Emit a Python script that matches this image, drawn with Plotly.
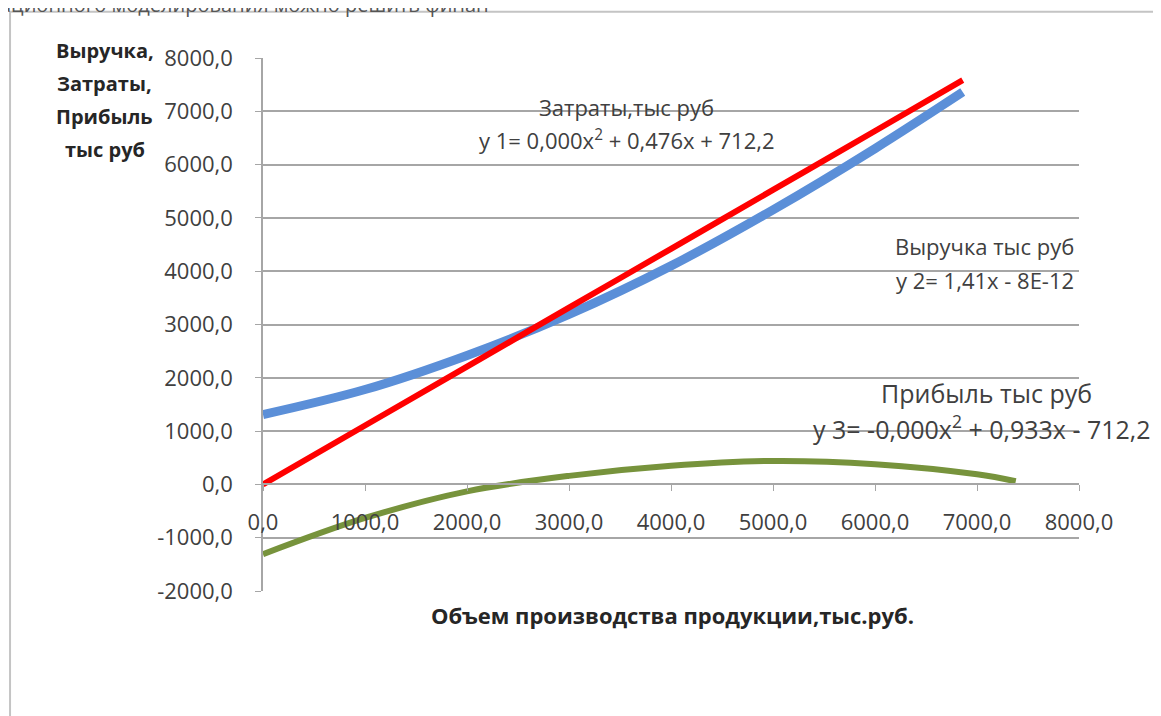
import plotly.graph_objects as go

# values
volume_blue = [0, 1000, 2000, 3000, 4000, 5000, 6000, 6860]
blue_vals = [1310, 1780, 2420, 3190, 4100, 5150, 6300, 7360]

volume_red = [0, 1000, 2000, 3000, 4000, 5000, 6000, 6860]
red_vals = [0, 1105, 2210, 3315, 4420, 5525, 6630, 7585]

volume_green = [0, 1000, 2000, 3000, 4000, 5000, 6000, 7000, 7380]
green_vals = [-1310, -630, -130, 160, 350, 440, 380, 190, 60]

y_ticks = [-2000, -1000, 0, 1000, 2000, 3000, 4000, 5000, 6000, 7000, 8000]
x_ticks = [0, 1000, 2000, 3000, 4000, 5000, 6000, 7000, 8000]


def fmt(v):
    # Excel style "8000,0" with a plain hyphen for negatives
    return f"{v:.1f}".replace(".", ",")


FONT = "Open Sans"
TXT = "#404040"
GRID = "#a6a6a6"

fig = go.Figure()
fig.add_trace(go.Scatter(x=volume_blue, y=blue_vals, mode="lines",
                         line=dict(color="#5b8fd8", width=9, shape="spline"),
                         showlegend=False))
fig.add_trace(go.Scatter(x=volume_red, y=red_vals, mode="lines",
                         line=dict(color="#ff0000", width=6, shape="spline"),
                         showlegend=False))
fig.add_trace(go.Scatter(x=volume_green, y=green_vals, mode="lines",
                         line=dict(color="#77933c", width=6, shape="spline"),
                         showlegend=False))

# outer chart frame (partly outside the window, like the screenshot)
fig.add_shape(type="rect", xref="paper", yref="paper",
              x0=-0.31, x1=1.2, y0=-0.3, y1=1.087,
              line=dict(color="#c4c4c4", width=2), layer="below")

ann = [
    # cut-off document text at the very top
    dict(x=-0.325, y=1.101, xanchor="left", yanchor="middle",
         text="ационного моделирования можно решить финан",
         font=dict(size=20, color="#555555")),
    # x axis title
    dict(x=0.502, y=-0.045, xanchor="center", yanchor="middle",
         text="<b>Объем производства продукции,тыс.руб.</b>",
         font=dict(size=22, color="#262626")),
    dict(x=0.446, y=0.909, xanchor="center", yanchor="middle",
         text="Затраты,тыс руб", font=dict(size=22, color=TXT)),
    dict(x=0.446, y=0.847, xanchor="center", yanchor="middle",
         text="y 1= 0,000x<sup>2</sup> + 0,476x + 712,2", font=dict(size=22, color=TXT)),
    dict(x=0.996, y=0.648, xanchor="right", yanchor="middle",
         text="Выручка тыс руб", font=dict(size=22, color=TXT)),
    dict(x=0.996, y=0.584, xanchor="right", yanchor="middle",
         text="y 2= 1,41x - 8E-12", font=dict(size=22, color=TXT)),
    dict(x=0.887, y=0.372, xanchor="center", yanchor="middle",
         text="Прибыль тыс руб", font=dict(size=25, color=TXT)),
    dict(x=0.672, y=0.306, xanchor="left", yanchor="middle",
         text="y 3= -0,000x<sup>2</sup> + 0,933x - 712,2", font=dict(size=25, color=TXT)),
]
# y axis title, one line per annotation for Excel-like spacing
for line, yy in zip(["Выручка,", "Затраты,", "Прибыль", "тыс руб"],
                    [1.014, 0.952, 0.890, 0.828]):
    ann.append(dict(x=-0.194, y=yy, xanchor="center", yanchor="middle",
                    text=f"<b>{line}</b>", font=dict(size=20, color="#262626")))
for a in ann:
    a.update(xref="paper", yref="paper", showarrow=False)

# page body has an 8px margin, so the figure is 8px smaller than the window
fig.update_layout(
    width=1153, height=708,
    margin=dict(l=255, r=82, t=50, b=125),
    paper_bgcolor="white", plot_bgcolor="white",
    font=dict(family=FONT, color=TXT),
    annotations=ann,
    xaxis=dict(range=[0, 8000], tickvals=x_ticks, ticktext=[fmt(v) for v in x_ticks],
               showgrid=False, zeroline=False,
               showline=True, linecolor=GRID, linewidth=1.5,
               ticks="outside", ticklen=6, tickcolor=GRID,
               tickfont=dict(size=22, color=TXT),
               anchor="free", position=0.2, ticklabelstandoff=12),
    yaxis=dict(range=[-2000, 8000], tickvals=y_ticks, ticktext=[fmt(v) for v in y_ticks],
               showgrid=True, gridcolor=GRID, gridwidth=1.5, zeroline=False,
               showline=True, linecolor=GRID, linewidth=1.5,
               ticks="outside", ticklen=6, tickcolor=GRID,
               tickfont=dict(size=22, color=TXT), ticklabelstandoff=18),
)

fig.write_html("out.html")
